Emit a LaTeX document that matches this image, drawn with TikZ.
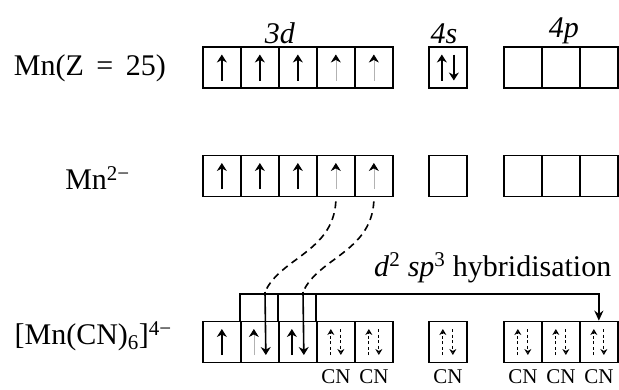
\documentclass[tikz,border=0pt]{standalone}
\usepackage{fontspec}
\setmainfont{Liberation Serif}
\usetikzlibrary{arrows.meta, positioning}

\begin{document}
\begin{tikzpicture}[x=1pt, y=-1pt,
    orb/.style={rectangle, draw, line width=1.7pt, anchor=west,
                minimum width=38pt, minimum height=41pt, inner sep=0pt},
    lbl/.style={font=\fontsize{30}{34}\selectfont, inner sep=0pt},
    cn/.style={font=\fontsize{21}{24}\selectfont, inner sep=0pt},
    spin/.style={line width=1.6pt, -{Stealth[length=8pt, width=10pt]}},
    weak/.style={line width=0.7pt, black!30, -{Stealth[length=8pt, width=10pt, color=black]}},
    pair/.style={line width=1.2pt, dash pattern=on 3pt off 2.5pt,
                 -{Stealth[length=6pt, width=7pt, open]}},
    link/.style={line width=1.6pt, dash pattern=on 7pt off 5pt},
  ]
    \useasboundingbox (0,0) rectangle (619,389);

    % orbital boxes, rows a, b, c
    \foreach \r/\y in {a/67.5, b/176, c/342} {
      \foreach \i in {1,...,5}
        \node[orb] (\r d\i) at ({202+38*(\i-1)}, \y) {};
      \node[orb] (\r s) at (428, \y) {};
      \foreach \i in {1,2,3}
        \node[orb] (\r p\i) at ({503+38*(\i-1)}, \y) {};
    }

    \node[lbl, anchor=east] (mn) at (166,68) {Mn(Z\, =\, 25)};
    \node[lbl, anchor=east] (mn2) at (130,178) {Mn\textsuperscript{2−}};
    \node[lbl, anchor=east] (cplx) at (172,336) {[Mn(CN)\textsubscript{6}]\textsuperscript{4−}};

    \node[lbl, above=2pt of ad3, xshift=-18pt] (l3d) {\textit{3d}};
    \node[lbl, above=2pt of as, xshift=-4pt] (l4s) {\textit{4s}};
    \node[lbl, above=2pt of ap2, xshift=3pt] (l4p) {\textit{4p}};

    % electrons
    \foreach \r in {a,b} {
      \foreach \i in {1,2,3}
        \draw[spin] ([yshift=-13pt]\r d\i.center) -- ([yshift=13pt]\r d\i.center);
      \foreach \i in {4,5}
        \draw[weak] ([yshift=-13pt]\r d\i.center) -- ([yshift=13pt]\r d\i.center);
    }
    \draw[spin] ([xshift=-6pt, yshift=-13pt]as.center) -- ([xshift=-6pt, yshift=13pt]as.center);
    \draw[spin] ([xshift=6pt, yshift=13pt]as.center) -- ([xshift=6pt, yshift=-13pt]as.center);

    \draw[spin] ([yshift=-13pt]cd1.center) -- ([yshift=13pt]cd1.center);
    \draw[weak] ([xshift=-6pt, yshift=-13pt]cd2.center) -- ([xshift=-6pt, yshift=13pt]cd2.center);
    \draw[spin] ([xshift=-6pt, yshift=-13pt]cd3.center) -- ([xshift=-6pt, yshift=13pt]cd3.center);
    \foreach \n in {cd4, cd5, cs, cp1, cp2, cp3} {
      \draw[pair] ([xshift=-5pt, yshift=-13pt]\n.center) -- ([xshift=-5pt, yshift=13pt]\n.center);
      \draw[pair] ([xshift=5pt, yshift=13pt]\n.center) -- ([xshift=5pt, yshift=-13pt]\n.center);
      \node[cn, below=6pt of \n] (\n-cn) {CN};
    }

    % d2sp3 bracket
    \draw[line width=1.7pt, -{Stealth[length=10pt, width=9pt]}]
      (cd2.north west) -- ++(0,-27) coordinate (hb) -| (cp3.north);
    \draw[line width=1.7pt] (cd3.north west) -- (cd3.north west |- hb);
    \draw[line width=1.7pt] (cd4.north west) -- (cd4.north west |- hb);
    \node[lbl, anchor=base west] (hyb) at (374,276)
      {\textit{d}\textsuperscript{2} \textit{sp}\textsuperscript{3} hybridisation};

    % electrons moved down from Mn2- into the paired d boxes
    \coordinate (j2) at (265,292);
    \coordinate (j3) at (303,292);
    \draw[link] ([yshift=-4pt]bd4.south) .. controls (333,252) and (280,258) .. (j2);
    \draw[link] ([yshift=-4pt]bd5.south) .. controls (371,252) and (318,258) .. (j3);
    \draw[spin] (j2) -- ([xshift=6pt, yshift=-13pt]cd2.center);
    \draw[spin] (j3) -- ([xshift=6pt, yshift=-13pt]cd3.center);
  \end{tikzpicture}
\end{document}
